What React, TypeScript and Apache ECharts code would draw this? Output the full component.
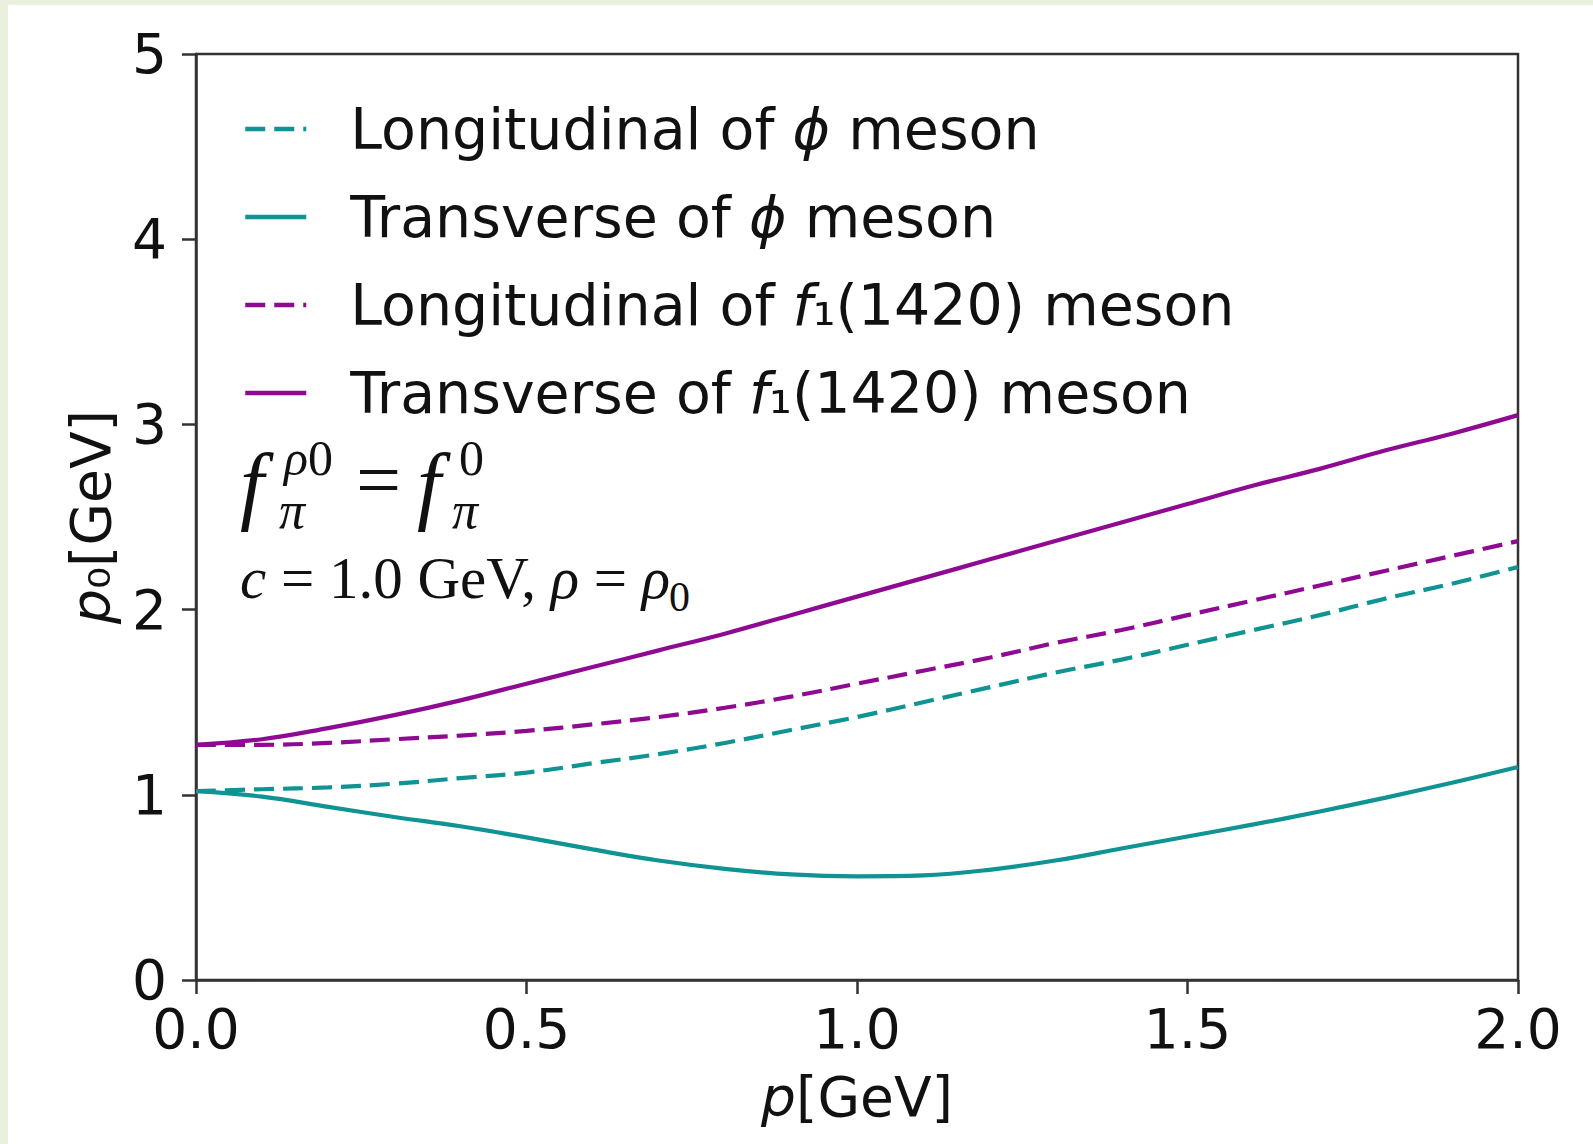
import React, { useEffect, useRef } from "react";
import * as echarts from "echarts";

// momentum p [GeV]
const pValues = [0.0, 0.1, 0.2, 0.3, 0.4, 0.5, 0.6, 0.7, 0.8, 0.9, 1.0, 1.1, 1.2, 1.3, 1.4, 1.5, 1.6, 1.7, 1.8, 1.9, 2.0];

// p0 [GeV]
const longitudinalPhi = [1.02, 1.03, 1.04, 1.06, 1.09, 1.12, 1.17, 1.22, 1.28, 1.35, 1.42, 1.50, 1.58, 1.66, 1.73, 1.81, 1.89, 1.97, 2.06, 2.14, 2.23];
const transversePhi = [1.02, 0.99, 0.935, 0.88, 0.83, 0.77, 0.705, 0.645, 0.60, 0.57, 0.56, 0.565, 0.595, 0.645, 0.71, 0.775, 0.84, 0.91, 0.985, 1.065, 1.15];
const longitudinalF1 = [1.27, 1.27, 1.28, 1.30, 1.32, 1.345, 1.38, 1.42, 1.47, 1.53, 1.60, 1.67, 1.74, 1.82, 1.89, 1.97, 2.05, 2.13, 2.21, 2.29, 2.37];
const transverseF1 = [1.27, 1.30, 1.36, 1.43, 1.51, 1.60, 1.69, 1.78, 1.87, 1.97, 2.07, 2.17, 2.27, 2.37, 2.47, 2.57, 2.67, 2.76, 2.86, 2.95, 3.05];

const seriesNames = [
  "Longitudinal of ϕ meson",
  "Transverse of ϕ meson",
  "Longitudinal of f1(1420) meson",
  "Transverse of f1(1420) meson",
];
const legendLabels = [
  "Longitudinal of {it|ϕ} meson",
  "Transverse of {it|ϕ} meson",
  "Longitudinal of {it|f}₁(1420) meson",
  "Transverse of {it|f}₁(1420) meson",
];

const xTicks = [0, 0.5, 1.0, 1.5, 2.0];
const yTicks = [0, 1, 2, 3, 4, 5];

const TEAL = "#0f9393";
const PURPLE = "#8f0a92";
const FONT = "DejaVu Sans";
const SERIF = "Liberation Serif";
const FS = 55;
const LFS = 57;

export default function App() {
  const ref = useRef<HTMLDivElement>(null);

  useEffect(() => {
    if (!ref.current) return;
    const chart = echarts.init(ref.current, null, { renderer: "svg" });
    const toData = (arr: number[]) => pValues.map((p, i) => [p, arr[i]]);
    const mkSeries = (name: string, arr: number[], color: string, dashed: boolean) => ({
      name,
      type: "line",
      data: toData(arr),
      smooth: 0.4,
      showSymbol: false,
      symbol: "none",
      lineStyle: { color, width: 4.2, type: dashed ? [20, 9] : "solid" },
      itemStyle: { color },
      z: 3,
    });

    const mathStyle = (size: number, italic: boolean) => ({
      fontFamily: SERIF,
      fontSize: size,
      fontStyle: italic ? "italic" : "normal",
      fill: "#111",
    });

    chart.setOption({
      animation: false,
      backgroundColor: "#e9f1dd",
      grid: {
        left: 196,
        top: 54,
        right: 75,
        bottom: 164,
        show: true,
        borderColor: "#333",
        borderWidth: 2.5,
        backgroundColor: "transparent",
        containLabel: false,
      },
      xAxis: {
        type: "value",
        min: 0,
        max: 2,
        interval: 0.5,
        name: "{it|p}[GeV]",
        nameLocation: "middle",
        nameGap: 89,
        nameTextStyle: {
          fontFamily: FONT,
          fontSize: FS,
          color: "#111",
          rich: { it: { fontStyle: "italic", fontFamily: FONT, fontSize: FS, color: "#111" } },
        },
        axisLine: { show: true, lineStyle: { color: "#333", width: 2.5 } },
        axisTick: { show: true, length: 14, lineStyle: { color: "#333", width: 2.5 } },
        splitLine: { show: false },
        axisLabel: {
          margin: 27,
          lineHeight: 44,
          fontFamily: FONT,
          fontSize: FS,
          color: "#111",
          formatter: (v: number) => (xTicks.includes(v) ? v.toFixed(1) : ""),
        },
      },
      yAxis: {
        type: "value",
        min: 0,
        max: 5,
        interval: 1,
        name: "{it|p}₀[GeV]",
        nameLocation: "middle",
        nameRotate: 90,
        nameGap: 78,
        nameTextStyle: {
          fontFamily: FONT,
          fontSize: FS,
          color: "#111",
          rich: { it: { fontStyle: "italic", fontFamily: FONT, fontSize: FS, color: "#111" } },
        },
        axisLine: { show: true, lineStyle: { color: "#333", width: 2.5 } },
        axisTick: { show: true, length: 14, lineStyle: { color: "#333", width: 2.5 } },
        splitLine: { show: false },
        axisLabel: {
          margin: 29,
          lineHeight: 44,
          fontFamily: FONT,
          fontSize: FS,
          color: "#111",
          formatter: (v: number) => (yTicks.includes(v) ? String(v) : ""),
        },
      },
      legend: {
        orient: "vertical",
        left: 238,
        top: 94,
        itemWidth: 61,
        itemHeight: 14,
        itemGap: 28,
        data: seriesNames,
        itemStyle: { color: "transparent", borderWidth: 0, opacity: 0 },
        lineStyle: { width: 4.5 },
        formatter: (name: string) => legendLabels[seriesNames.indexOf(name)],
        textStyle: {
          fontFamily: FONT,
          fontSize: LFS,
          color: "#111",
          lineHeight: 60,
          padding: [0, 0, 0, 39],
          rich: { it: { fontStyle: "italic", fontFamily: FONT, fontSize: LFS, color: "#111" } },
        },
      },
      graphic: [
        {
          type: "rect",
          z: -10,
          silent: true,
          shape: { x: 8, y: 5, width: 1600, height: 1150 },
          style: { fill: "#ffffff" },
        },
        // f_pi^{rho0} = f_pi^0
        { type: "text", x: 240, y: 484, z: 10, style: { ...mathStyle(86, true), text: "f", verticalAlign: "middle" } },
        {
          type: "text", x: 284, y: 458, z: 10,
          style: {
            text: "{i|ρ}{n|0}", verticalAlign: "middle", fill: "#111",
            rich: { i: mathStyle(50, true), n: mathStyle(50, false) },
          },
        },
        { type: "text", x: 279, y: 510, z: 10, style: { ...mathStyle(52, true), text: "π", verticalAlign: "middle" } },
        { type: "text", x: 356, y: 480, z: 10, style: { ...mathStyle(80, false), text: "=", verticalAlign: "middle" } },
        { type: "text", x: 417, y: 484, z: 10, style: { ...mathStyle(86, true), text: "f", verticalAlign: "middle" } },
        { type: "text", x: 459, y: 458, z: 10, style: { ...mathStyle(50, false), text: "0", verticalAlign: "middle" } },
        { type: "text", x: 452, y: 510, z: 10, style: { ...mathStyle(52, true), text: "π", verticalAlign: "middle" } },
        // c = 1.0 GeV, rho = rho0
        {
          type: "text", x: 240, y: 578, z: 10,
          style: {
            text: "{i|c} = 1.0 GeV, {i|ρ} = {i|ρ}",
            verticalAlign: "middle",
            ...mathStyle(59, false),
            rich: { i: mathStyle(59, true) },
          },
        },
        { type: "text", x: 669, y: 597, z: 10, style: { ...mathStyle(42, false), text: "0", verticalAlign: "middle" } },
      ],
      series: [
        mkSeries(seriesNames[0], longitudinalPhi, TEAL, true),
        mkSeries(seriesNames[1], transversePhi, TEAL, false),
        mkSeries(seriesNames[2], longitudinalF1, PURPLE, true),
        mkSeries(seriesNames[3], transverseF1, PURPLE, false),
      ],
    });
    return () => chart.dispose();
  }, []);

  return (
    <div
      ref={ref}
      style={{ position: "fixed", left: 0, top: 0, width: 1593, height: 1144 }}
    />
  );
}
